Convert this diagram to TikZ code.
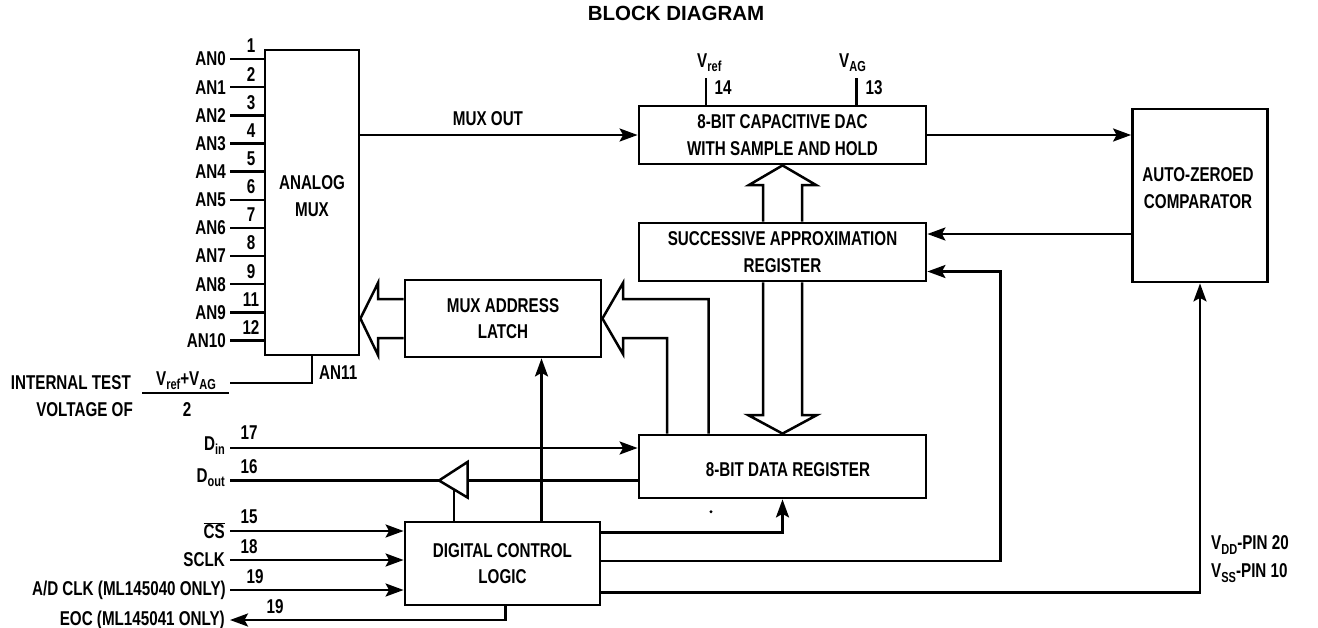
\documentclass[tikz,border=0pt]{standalone}
\usepackage{fontspec}
\setmainfont{Liberation Sans}[FakeStretch=0.76]
\newfontfamily\titlefont{Liberation Sans}
\usetikzlibrary{arrows.meta,calc}
\newcommand{\lsub}[1]{\raisebox{-0.4ex}{\fontsize{14.5}{14.5}\selectfont #1}}
\begin{document}
\begin{tikzpicture}[x=1pt,y=-1pt,
  every node/.style={font=\fontsize{20}{26.5}\selectfont\bfseries, inner sep=0pt, align=center},
  blk/.style={draw, line width=2.8pt},
  wire/.style={line width=2.5pt},
  arr/.style={wire, -{Stealth[length=18pt,width=13pt,inset=3.5pt]}},
  bus/.style={line width=2.5pt, fill=white, line join=miter},
  lbl/.style={anchor=east}
]
\useasboundingbox[fill=white] (0,0) rectangle (1318,627);

% title
\node[font=\titlefont\fontsize{20.5}{24}\selectfont\bfseries] (title) at (676,13) {BLOCK DIAGRAM};

% blocks
\node[blk, minimum width=94pt, minimum height=305pt] (mux) at (312,202.5) {};
\node (muxtxt) at (312,196) {ANALOG\\MUX};
\node[blk, minimum width=287pt, minimum height=58pt] (dac) at (782.5,135) {8-BIT CAPACITIVE DAC\\WITH SAMPLE AND HOLD};
\node[blk, minimum width=287pt, minimum height=58pt] (sar) at (782.5,252) {SUCCESSIVE APPROXIMATION\\REGISTER};
\node[blk, minimum width=196pt, minimum height=77pt] (latch) at (503,318.5) {MUX ADDRESS\\LATCH};
\node[blk, minimum width=287pt, minimum height=63pt] (dreg) at (782.5,466.5) {};
\node (dregtxt) at (788,470) {8-BIT DATA REGISTER};
\node[blk, minimum width=195pt, minimum height=83pt] (dcl) at (502.5,563.5) {DIGITAL CONTROL\\LOGIC};
\node[blk, minimum width=135pt, minimum height=173pt] (comp) at (1200,195.5) {};
\node (comptxt) at (1198,188) {AUTO-ZEROED\\COMPARATOR};

% analog inputs
\foreach \lab/\num [count=\i from 0] in {AN0/1,AN1/2,AN2/3,AN3/4,AN4/5,AN5/6,AN6/7,AN7/8,AN8/9,AN9/11,AN10/12}{
  \pgfmathsetmacro{\yy}{59+28.15*\i}
  \coordinate (an\i) at (230,\yy);
  \draw[wire] (an\i) -- (an\i -| mux.west);
  \node[lbl] (anl\i) at (226,\yy) {\lab};
  \node (ann\i) at (251,\yy-13) {\num};
}

% AN11 internal test
\coordinate (an11) at (230,383);
\draw[wire] (an11) -| (mux.south);
\node[anchor=west] (an11l) at (319,373) {AN11};
\node[anchor=east] (itest) at (131,383) {INTERNAL TEST};
\node[anchor=east] (voltof) at (133,410) {VOLTAGE OF};
\node (fracnum) at (186,381) {V\lsub{ref}+V\lsub{AG}};
\coordinate (fbl) at (142,393);
\coordinate (fbr) at (229,393);
\draw[wire] (fbl) -- (fbr);
\node (fracden) at (187,410) {2};

% MUX OUT
\draw[arr] (mux.east |- dac.west) -- (dac.west);
\node (muxout) at (488,119) {MUX OUT};

% Vref, VAG
\coordinate (vreft) at (706,78);
\coordinate (vagt) at (856.5,78);
\draw[wire] (dac.north -| vreft) -- (vreft);
\draw[wire] (dac.north -| vagt) -- (vagt);
\node[anchor=west] (vref) at (697,63) {V\lsub{ref}};
\node[anchor=west] (vag) at (839,63) {V\lsub{AG}};
\node (n14) at (723,88) {14};
\node (n13) at (874,88) {13};

% DAC -> comparator, comparator -> SAR
\draw[arr] (dac.east) -- (dac.east -| comp.west);
\coordinate (cmpo) at (1132,234);
\draw[arr] (comp.west |- cmpo) -- (sar.east |- cmpo);

% buses (hollow arrows)
\draw[bus] (latch.west |- 0,299) -- (378,299) -- (378,283) -- (mux.east |- 0,318.5) -- (378,355) -- (378,338) -- (latch.west |- 0,338);
\draw[bus] (dreg.north -| 667,0) -- (667,338) -- (623,338) -- (623,354) -- (latch.east) -- (623,283) -- (623,299) -- (708.5,299) -- (dreg.north -| 708.5,0);
\draw[bus] (sar.north -| 763,0) -- (763,185) -- (749,185) -- (dac.south) -- (816,185) -- (802,185) -- (sar.north -| 802,0);
\draw[bus] (sar.south -| 763,0) -- (763,415) -- (748,415) -- (dreg.north) -- (817,415) -- (802,415) -- (sar.south -| 802,0);

% serial data
\coordinate (din) at (230,448);
\draw[arr] (din) -- (din -| dreg.west);
\node[lbl] (dinl) at (225,446) {D\lsub{in}};
\node (n17) at (249,433) {17};

\coordinate (dout) at (230,480.5);
\coordinate (buftip) at (439,480.5);
\coordinate (bufbase) at (467.5,480.5);
\draw[wire, line join=miter] (467.5,462) -- (buftip) -- (467.5,497.5) -- cycle;
\draw[wire] (dreg.west |- bufbase) -- (bufbase);
\draw[wire] (buftip) -- (dout);
\coordinate (bufen) at (454,489.5);
\draw[wire] (dcl.north -| bufen) -- (bufen);
\node[lbl] (doutl) at (225,478) {D\lsub{out}};
\node (n16) at (249,466.5) {16};

% control inputs
\coordinate (cs) at (230,531);
\draw[arr] (cs) -- (cs -| dcl.west);
\node[lbl] (csl) at (225,531) {$\overline{\mbox{CS}}$};
\node (n15) at (249,516.5) {15};

\coordinate (sclk) at (230,560);
\draw[arr] (sclk) -- (sclk -| dcl.west);
\node[lbl] (sclkl) at (225,560) {SCLK};
\node (n18) at (249,546.5) {18};

\coordinate (adclk) at (230,590);
\draw[arr] (adclk) -- (adclk -| dcl.west);
\node[lbl] (adclkl) at (226,590) {A/D CLK (ML145040 ONLY)};
\node (n19a) at (255,577) {19};

\coordinate (eoc) at (230,620);
\coordinate (eocs) at (505.7,620);
\draw[arr] (dcl.south -| eocs) |- (eoc);
\node[lbl] (eocl) at (225,620) {EOC (ML145041 ONLY)};
\node (n19b) at (275,606.5) {19};

% control logic outputs
\coordinate (latchin) at (541.5,0);
\draw[arr] (dcl.north -| latchin) -- (latch.south -| latchin);
\coordinate (o1) at (600,532.5);
\draw[arr] (dcl.east |- o1) -| (dreg.south);
\coordinate (o2) at (1000.7,271.5);
\draw[arr] (dcl.east |- 0,561) -| (o2) -- (sar.east |- o2);
\draw[arr] (dcl.east |- 0,592.5) -| (comp.south);

% stray dot
\fill (711,511.7) circle (1.6pt);

% supply note
\node[anchor=west] (vdd) at (1211,545) {V\lsub{DD}-PIN 20};
\node[anchor=west] (vss) at (1211,573) {V\lsub{SS}-PIN 10};
\end{tikzpicture}
\end{document}
